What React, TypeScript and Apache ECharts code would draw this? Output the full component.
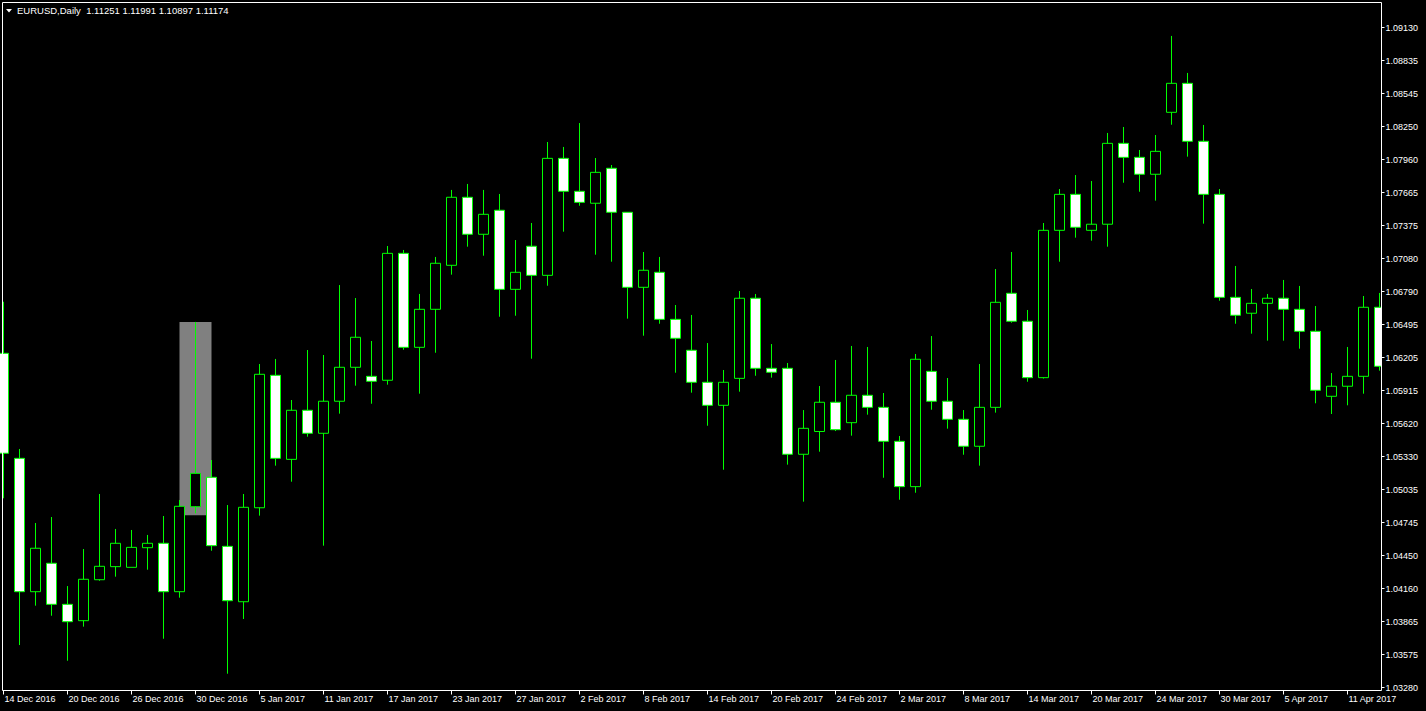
import React, { useEffect, useRef } from "react";
import * as echarts from "echarts";

const titleText = "EURUSD,Daily  1.11251 1.11991 1.10897 1.11174";

const dates = [
  "14 Dec 2016", "15 Dec 2016", "16 Dec 2016", "19 Dec 2016", "20 Dec 2016", "21 Dec 2016", "22 Dec 2016", "23 Dec 2016",
  "26 Dec 2016", "27 Dec 2016", "28 Dec 2016", "29 Dec 2016", "30 Dec 2016", "2 Jan 2017", "3 Jan 2017", "4 Jan 2017",
  "5 Jan 2017", "6 Jan 2017", "9 Jan 2017", "10 Jan 2017", "11 Jan 2017", "12 Jan 2017", "13 Jan 2017", "16 Jan 2017",
  "17 Jan 2017", "18 Jan 2017", "19 Jan 2017", "20 Jan 2017", "23 Jan 2017", "24 Jan 2017", "25 Jan 2017", "26 Jan 2017",
  "27 Jan 2017", "30 Jan 2017", "31 Jan 2017", "1 Feb 2017", "2 Feb 2017", "3 Feb 2017", "6 Feb 2017", "7 Feb 2017",
  "8 Feb 2017", "9 Feb 2017", "10 Feb 2017", "13 Feb 2017", "14 Feb 2017", "15 Feb 2017", "16 Feb 2017", "17 Feb 2017",
  "20 Feb 2017", "21 Feb 2017", "22 Feb 2017", "23 Feb 2017", "24 Feb 2017", "27 Feb 2017", "28 Feb 2017", "1 Mar 2017",
  "2 Mar 2017", "3 Mar 2017", "6 Mar 2017", "7 Mar 2017", "8 Mar 2017", "9 Mar 2017", "10 Mar 2017", "13 Mar 2017",
  "14 Mar 2017", "15 Mar 2017", "16 Mar 2017", "17 Mar 2017", "20 Mar 2017", "21 Mar 2017", "22 Mar 2017", "23 Mar 2017",
  "24 Mar 2017", "27 Mar 2017", "28 Mar 2017", "29 Mar 2017", "30 Mar 2017", "31 Mar 2017", "3 Apr 2017", "4 Apr 2017",
  "5 Apr 2017", "6 Apr 2017", "7 Apr 2017", "10 Apr 2017", "11 Apr 2017", "12 Apr 2017", "13 Apr 2017",
];

const opens = [
  1.06244, 1.05313, 1.04131, 1.04383, 1.04019, 1.03874, 1.04237, 1.04353, 1.04347, 1.04521,
  1.0456, 1.04131, 1.04884, 1.05145, 1.04533, 1.04042, 1.04875, 1.06049, 1.05304, 1.05739,
  1.05535, 1.05819, 1.0612, 1.0604, 1.06005, 1.0713, 1.06297, 1.06634, 1.07024, 1.07627,
  1.07299, 1.07512, 1.06811, 1.07193, 1.06935, 1.07972, 1.0768, 1.07574, 1.07884, 1.07494,
  1.06829, 1.06962, 1.06545, 1.06271, 1.05987, 1.05783, 1.06022, 1.06732, 1.06111, 1.06111,
  1.05349, 1.05551, 1.0581, 1.05629, 1.05872, 1.05765, 1.05464, 1.05062, 1.06084, 1.05819,
  1.05659, 1.0542, 1.05765, 1.06776, 1.06528, 1.06028, 1.07334, 1.07653, 1.07334, 1.07388,
  1.08105, 1.07981, 1.07831, 1.0838, 1.08637, 1.08123, 1.07653, 1.0674, 1.06599, 1.06687,
  1.06732, 1.06634, 1.06439, 1.05863, 1.05952, 1.0604, 1.06652,
];

const highs = [
  1.06701, 1.05396, 1.0474, 1.04793, 1.04181, 1.04509, 1.04997, 1.04687, 1.04678, 1.04634,
  1.04802, 1.04944, 1.06522, 1.05298, 1.04899, 1.04997, 1.06149, 1.06194, 1.0583, 1.06273,
  1.06229, 1.06849, 1.06734, 1.06353, 1.07195, 1.0716, 1.0677, 1.07098, 1.07692, 1.07745,
  1.07692, 1.07656, 1.07248, 1.07399, 1.08117, 1.08073, 1.08285, 1.07975, 1.07913, 1.07494,
  1.07142, 1.07098, 1.06672, 1.06584, 1.06335, 1.06096, 1.06796, 1.0677, 1.06326, 1.06158,
  1.05741, 1.05954, 1.06185, 1.06309, 1.063, 1.05892, 1.05511, 1.06238, 1.06397, 1.06025,
  1.05741, 1.06149, 1.06991, 1.07142, 1.06628, 1.07399, 1.077, 1.07824, 1.07771, 1.08197,
  1.0825, 1.08046, 1.08179, 1.09057, 1.08729, 1.08268, 1.077, 1.07018, 1.06814, 1.0677,
  1.06894, 1.06841, 1.06663, 1.06069, 1.063, 1.06752, 1.06779,
];

const lows = [
  1.04959, 1.03658, 1.04007, 1.03918, 1.03519, 1.03821, 1.04228, 1.04264, 1.04347, 1.04326,
  1.03714, 1.04078, 1.04826, 1.04494, 1.03404, 1.03889, 1.04805, 1.05248, 1.05106, 1.05505,
  1.04539, 1.05709, 1.05957, 1.05797, 1.05966, 1.06276, 1.05886, 1.06249, 1.06941, 1.07189,
  1.07109, 1.06568, 1.06577, 1.06196, 1.06843, 1.07322, 1.07552, 1.07118, 1.07056, 1.06551,
  1.064, 1.06506, 1.06072, 1.05895, 1.05602, 1.05212, 1.05904, 1.06045, 1.06028, 1.05257,
  1.04929, 1.05372, 1.05555, 1.05514, 1.057, 1.05141, 1.04946, 1.05008, 1.05744, 1.05576,
  1.05345, 1.05248, 1.05718, 1.06515, 1.05992, 1.0602, 1.07056, 1.07269, 1.07242, 1.07189,
  1.07756, 1.07676, 1.07597, 1.0827, 1.07987, 1.07393, 1.0671, 1.06506, 1.06418, 1.06356,
  1.06356, 1.06285, 1.05801, 1.05706, 1.05783, 1.05886, 1.0609,
];

const closes = [
  1.05358, 1.04131, 1.04516, 1.04019, 1.03865, 1.04241, 1.04356, 1.0456, 1.04524, 1.0456,
  1.04131, 1.04888, 1.0518, 1.04539, 1.04051, 1.04879, 1.06058, 1.05313, 1.05739, 1.05535,
  1.05819, 1.0612, 1.06386, 1.05996, 1.0713, 1.06297, 1.06634, 1.07042, 1.07627, 1.07299,
  1.07476, 1.06811, 1.06962, 1.06935, 1.07972, 1.0768, 1.07582, 1.07848, 1.07494, 1.06829,
  1.0698, 1.06545, 1.06377, 1.05987, 1.05783, 1.05987, 1.06732, 1.06111, 1.06076, 1.05349,
  1.05579, 1.0581, 1.05567, 1.05872, 1.05765, 1.05464, 1.05062, 1.06191, 1.05819, 1.05659,
  1.0542, 1.05765, 1.06696, 1.06528, 1.06028, 1.07334, 1.07653, 1.07361, 1.07388, 1.08105,
  1.07981, 1.07831, 1.08034, 1.08637, 1.08123, 1.07653, 1.0674, 1.06581, 1.06687, 1.06732,
  1.06634, 1.06439, 1.05916, 1.05952, 1.0604, 1.06652, 1.06129,
];

const priceLabels = [
  "1.03280", "1.03575", "1.03865", "1.04160", "1.04450", "1.04745", "1.05035",
  "1.05330", "1.05620", "1.05915", "1.06205", "1.06495", "1.06790", "1.07080",
  "1.07375", "1.07665", "1.07960", "1.08250", "1.08545", "1.08835", "1.09130",
];
const priceMin = 1.0328;
const priceMax = 1.0913;

const highlightIndex = 12;

const FONT = "'Liberation Sans', Arial, sans-serif";

export default function App() {
  const ref = useRef<HTMLDivElement>(null);

  useEffect(() => {
    if (!ref.current) return;
    const chart = echarts.init(ref.current, null, { renderer: "svg" });
    const candleData = dates.map((_, i) => [opens[i], closes[i], lows[i], highs[i]]);

    chart.setOption({
      animation: false,
      backgroundColor: "#000000",
      title: {
        text: titleText,
        left: 17,
        top: 5,
        padding: 0,
        textStyle: { color: "#ffffff", fontSize: 9.5, fontWeight: "normal", fontFamily: FONT },
      },
      grid: { left: 3.5, top: 27.7, width: 1376, height: 660, containLabel: false },
      xAxis: {
        type: "category",
        data: dates,
        boundaryGap: false,
        offset: 2.8,
        z: 10,
        axisLine: { show: false },
        axisTick: { show: true, interval: 3, length: 4, lineStyle: { color: "#ffffff", width: 1 } },
        axisLabel: {
          interval: 3,
          color: "#ffffff",
          fontSize: 9,
          fontFamily: FONT,
          align: "left",
          margin: 4,
          padding: [0, 0, 0, 1],
        },
        splitLine: { show: false },
      },
      yAxis: [
        { type: "value", min: priceMin, max: priceMax, show: false, splitLine: { show: false } },
        {
          type: "category",
          data: priceLabels,
          boundaryGap: false,
          position: "right",
          offset: 2,
          z: 10,
          axisLine: { show: false },
          axisTick: { show: true, interval: 0, length: 3, lineStyle: { color: "#ffffff", width: 1 } },
          axisLabel: { interval: 0, color: "#ffffff", fontSize: 9, fontFamily: FONT, margin: 4 },
          splitLine: { show: false },
        },
      ],
      graphic: [
        {
          type: "rect",
          z: 5,
          silent: true,
          shape: { x: 1382, y: 0, width: 44, height: 690 },
          style: { fill: "#000000" },
        },
        {
          type: "rect",
          z: 6,
          silent: true,
          shape: { x: 2.5, y: 2.5, width: 1379, height: 688 },
          style: { fill: "none", stroke: "#ffffff", lineWidth: 1 },
        },
        {
          type: "polygon",
          z: 6,
          silent: true,
          shape: { points: [[6, 9], [12, 9], [9, 12.5]] },
          style: { fill: "#ffffff" },
        },
      ],
      series: [
        {
          type: "custom",
          z: 1,
          xAxisIndex: 0,
          yAxisIndex: 0,
          silent: true,
          data: [[highlightIndex, lows[highlightIndex], highs[highlightIndex]]],
          renderItem: (params: any, api: any) => {
            const idx = api.value(0);
            const top = api.coord([idx, api.value(2)]);
            const bottom = api.coord([idx, api.value(1)]);
            const w = api.size([1, 0])[0] * 2;
            return {
              type: "rect",
              shape: { x: top[0] - w / 2, y: top[1], width: w, height: bottom[1] - top[1] + 2 },
              style: { fill: "#808080" },
            };
          },
        },
        {
          type: "candlestick",
          z: 2,
          xAxisIndex: 0,
          yAxisIndex: 0,
          data: candleData,
          barWidth: 10,
          clip: false,
          itemStyle: {
            color: "#000000",
            color0: "#ffffff",
            borderColor: "#00ff00",
            borderColor0: "#00ff00",
            borderWidth: 1,
          },
        },
      ],
    });

    return () => chart.dispose();
  }, []);

  return (
    <div
      ref={ref}
      style={{ position: "fixed", left: 0, top: 0, width: 1426, height: 711, background: "#000000" }}
    />
  );
}
